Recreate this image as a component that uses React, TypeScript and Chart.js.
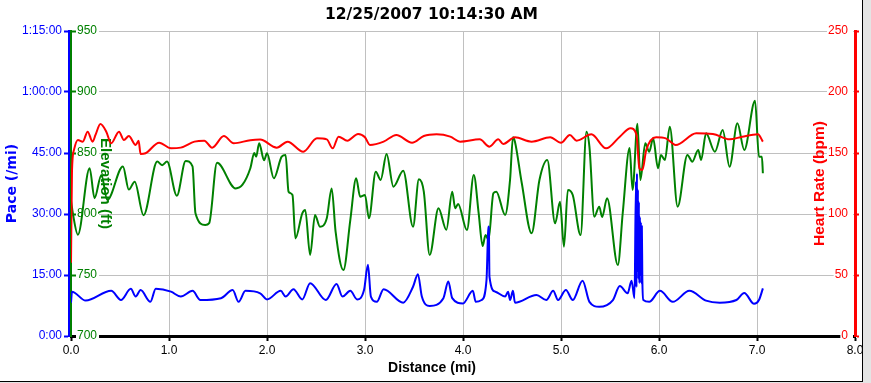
import React, { useEffect, useRef } from "react";
import { Chart, registerables } from "chart.js";

Chart.register(...registerables);

const chartTitle = "12/25/2007 10:14:30 AM";
const xTitle = "Distance (mi)";
const paceTitle = "Pace (/mi)";
const elevTitle = "Elevation (ft)";
const hrTitle = "Heart Rate (bpm)";

const paceTickLabels = ["0:00", "15:00", "30:00", "45:00", "1:00:00", "1:15:00"];

// Pace (minutes per mile) vs distance (mi)
const paceDist = [0.0, 0.01, 0.15, 0.41, 0.51, 0.61, 0.66, 0.71, 0.81, 0.865, 1.02, 1.12, 1.24, 1.32, 1.53, 1.65, 1.71, 1.78, 1.93,
  2.0, 2.14, 2.19, 2.27, 2.36, 2.44, 2.6, 2.71, 2.77, 2.85, 2.92, 2.99, 3.03, 3.06, 3.12, 3.19, 3.39, 3.49, 3.54, 3.58, 3.66, 3.8, 3.85, 3.89,
  4.0, 4.1, 4.13, 4.19, 4.24, 4.255, 4.26, 4.265, 4.27, 4.33, 4.43, 4.46, 4.48, 4.51, 4.53, 4.75, 4.85, 4.92, 4.97, 5.05, 5.12, 5.22, 5.29, 5.39, 5.53,
  5.6, 5.68, 5.72, 5.75, 5.765, 5.77, 5.775, 5.78, 5.785, 5.79, 5.795, 5.8, 5.805, 5.81, 5.815, 5.82, 5.825, 5.83, 5.84, 5.9,
  6.01, 6.14, 6.31, 6.48, 6.62, 6.79, 6.87, 6.97, 7.02, 7.06];
const paceVal = [8.2, 10.9, 8.7, 11.1, 8.85, 11.6, 9.7, 11.3, 8.4, 11.6, 10.9, 9.7, 11.1, 8.85, 9.3, 11.3, 8.4, 11.1, 10.5,
  9.0, 11.1, 9.7, 11.5, 9.0, 13.0, 8.85, 12.8, 9.7, 11.1, 9.0, 11.3, 17.5, 9.7, 8.4, 11.5, 8.2, 12.1, 15.2, 9.7, 7.4, 9.3, 13.4, 9.3,
  8.0, 11.1, 8.4, 8.85, 13.8, 25, 26.9, 25, 14.6, 10.9, 9.7, 10.9, 8.85, 11.1, 8.2, 10.1, 8.85, 11.1, 8.85, 11.3, 8.85, 13.6, 8.4, 7.2, 8.85,
  12.3, 10.5, 13.6, 9.3, 38, 12, 40, 16, 36, 14, 33, 13, 29.3, 15, 28, 13, 26.9, 14, 8.85, 8.4,
  11.1, 8.4, 11.1, 8.7, 8.2, 8.85, 10.6, 7.9, 8.85, 11.7];

// Elevation (ft) vs distance (mi)
const elevDist = [0.0, 0.02, 0.07, 0.19, 0.24, 0.31, 0.37, 0.53, 0.59, 0.65, 0.74, 0.88, 0.93, 0.98, 1.08, 1.17, 1.24, 1.27, 1.37, 1.41, 1.49,
  1.68, 1.75, 1.83, 1.87, 1.89, 1.92, 1.97, 2.0, 2.07, 2.15, 2.19, 2.22, 2.26, 2.29, 2.36, 2.39, 2.44, 2.49, 2.54, 2.61, 2.66, 2.7, 2.78,
  2.85, 2.91, 2.95, 3.0, 3.04, 3.11, 3.16, 3.22, 3.29, 3.39, 3.49, 3.55, 3.6, 3.66, 3.75, 3.83, 3.89, 3.92, 3.95, 4.04, 4.11, 4.16, 4.2,
  4.23, 4.26, 4.31, 4.34, 4.43, 4.48, 4.51, 4.53, 4.6, 4.7, 4.78, 4.86, 4.94, 4.99, 5.03, 5.07, 5.12, 5.2, 5.26, 5.29, 5.34, 5.39, 5.42,
  5.47, 5.58, 5.63, 5.7, 5.73, 5.78, 5.81, 5.86, 5.9, 5.94, 5.99, 6.02, 6.06, 6.11, 6.19, 6.29, 6.34, 6.4, 6.43, 6.48, 6.57, 6.65, 6.72,
  6.8, 6.87, 6.98, 7.02, 7.05, 7.06];
const elevVal = [811, 800, 783, 837.5, 813, 832, 811.5, 839, 820, 826.5, 799, 843, 840, 843, 815, 843.4, 839, 800.6, 791, 792.5, 842,
  821, 824, 837.5, 850, 847, 858, 844, 849.7, 829.3, 847, 848.4, 818.3, 815.6, 780, 800.6, 803.3, 766.4, 799.2, 789.6, 796.5, 821, 785.5, 754,
  795, 829.3, 814.2, 815.6, 796.5, 834.6, 827.9, 849.2, 822.4, 835.5, 789.6, 828.4, 818.3, 766.4, 804.7, 787, 818.3, 804.7, 808.2, 786.9, 832, 800.6, 773.8,
  782.8, 778.7, 817, 818.3, 799.2, 827.9, 862.9, 859.3, 825.2, 784.2, 827.9, 844.3, 792.4, 810, 773.2, 819.7, 815.6, 782.8, 867.5, 855.2, 797.8, 806, 797.5,
  813, 758.2, 800.8, 854, 819.7, 874, 827.9, 858, 851, 862, 837.5, 848.4, 844.3, 871.6, 806, 848.4, 842.9, 852.5, 844.3, 866.1, 851, 868.9, 838.8,
  874.3, 852.5, 892.9, 847, 847, 833.4];

// Heart rate (bpm) vs distance (mi)
const hrDist = [0.0, 0.01, 0.03, 0.07, 0.12, 0.17, 0.22, 0.25, 0.3, 0.36, 0.41, 0.49, 0.54, 0.59, 0.66, 0.69, 0.71, 0.76, 0.9, 1.02, 1.12,
  1.26, 1.36, 1.44, 1.56, 1.66, 1.83, 1.93, 2.1, 2.21, 2.37, 2.51, 2.61, 2.67, 2.73, 2.82, 2.93, 3.0, 3.05, 3.19, 3.32, 3.48, 3.6, 3.73,
  3.87, 3.97, 4.17, 4.27, 4.36, 4.41, 4.53, 4.7, 4.89, 5.0, 5.09, 5.16, 5.31, 5.46, 5.6, 5.71, 5.77, 5.8, 5.83, 5.87, 5.97, 6.07, 6.17,
  6.38, 6.55, 6.72, 6.85, 7.01, 7.06];
const hrVal = [60, 135, 152.5, 160.7, 159.3, 167.5, 159.3, 164.8, 173.8, 167.5, 158, 167.5, 160.7, 163.9, 156.6, 160.1, 149.2, 149.8, 158.4, 153.8, 154.4,
  159.3, 160.1, 154.4, 163.9, 158, 160.5, 161, 154.4, 159.3, 151.1, 162, 161.2, 153.8, 163.4, 160.1, 165.6, 162.9, 156.6, 159.3, 164.8, 158.4, 163.9, 165.3,
  163.4, 159.3, 161.2, 155.2, 161.2, 157.4, 162.9, 159.3, 162.9, 158.4, 164.8, 160.1, 165.3, 153.8, 163.4, 170.2, 165, 137.5, 136, 152.5, 162.9, 162, 156.6,
  166.1, 165.6, 161.2, 163.4, 165.3, 159.3];

const BLUE = "#0000ff";
const GREEN = "#008000";
const RED = "#ff0000";
const GRID = "#c0c0c0";
const BG = "#ffffff";

const zip = (xs: number[], ys: number[]) => xs.map((x, i) => ({ x, y: ys[i] }));

const innerTitles = {
  id: "innerTitles",
  beforeDatasetsDraw(chart: any) {
    const ctx = chart.ctx;
    const { top, bottom } = chart.chartArea;
    const cy = (top + bottom) / 2;
    ctx.save();
    ctx.textAlign = "center";
    ctx.textBaseline = "middle";
    ctx.font = 'bold 15px "Liberation Sans"';
    ctx.fillStyle = GREEN;
    ctx.save();
    ctx.translate(105, cy);
    ctx.rotate(Math.PI / 2);
    ctx.fillText(elevTitle, 0, 0);
    ctx.restore();
    ctx.font = 'bold 15.5px "Liberation Sans"';
    ctx.fillStyle = RED;
    ctx.save();
    ctx.translate(820, cy);
    ctx.rotate(-Math.PI / 2);
    ctx.fillText(hrTitle, 0, 0);
    ctx.restore();
    ctx.font = 'bold 14px "Liberation Sans"';
    ctx.fillStyle = "#000";
    ctx.fillText(xTitle, 432, 368);
    ctx.restore();
  },
};

export default function App() {
  const ref = useRef<HTMLCanvasElement | null>(null);
  useEffect(() => {
    document.body.style.margin = "0";
    const tickFont = { family: "Liberation Sans", size: 12 };
    const chart = new Chart(ref.current as HTMLCanvasElement, {
      type: "line",
      data: {
        datasets: [
          { label: "Pace", data: zip(paceDist, paceVal), yAxisID: "pace", borderColor: BLUE, borderWidth: 2, pointRadius: 0, cubicInterpolationMode: "monotone" },
          { label: "Heart Rate", data: zip(hrDist, hrVal), yAxisID: "hr", borderColor: RED, borderWidth: 2, pointRadius: 0, cubicInterpolationMode: "monotone" },
          { label: "Elevation", data: zip(elevDist, elevVal), yAxisID: "elev", borderColor: GREEN, borderWidth: 2, pointRadius: 0, cubicInterpolationMode: "monotone" },
        ],
      },
      options: {
        animation: false,
        responsive: false,
        layout: { padding: { left: 0, top: 0, right: 8, bottom: 2 } },
        plugins: {
          legend: { display: false },
          tooltip: { enabled: false },
          title: {
            display: true,
            text: chartTitle,
            color: "#000",
            font: { family: "DejaVu Sans", weight: "bold", size: 15.5, lineHeight: 1.2 },
            padding: { top: 6, bottom: 6.4 },
          },
        },
        scales: {
          x: {
            type: "linear",
            min: 0,
            max: 8,
            ticks: { stepSize: 1, color: "#000", font: tickFont, padding: 2, maxRotation: 0, autoSkip: false, callback: (v: any) => Number(v).toFixed(1) },
            grid: { color: GRID, lineWidth: 1, tickColor: "#000", tickLength: 5, tickWidth: 2 },
            border: { color: "#000", width: 3 },
            afterFit: (s: any) => { s.height = 45; s.paddingLeft = 0; s.paddingRight = 0; },
          },
          pace: {
            type: "linear",
            position: "left",
            weight: 1,
            min: 0,
            max: 75,
            ticks: { stepSize: 15, color: BLUE, font: tickFont, padding: 2, callback: (v: any) => paceTickLabels[Math.round(Number(v) / 15)] },
            grid: { color: GRID, lineWidth: 1, tickColor: BLUE, tickLength: 5, tickWidth: 2 },
            border: { color: BLUE, width: 3 },
            title: { display: true, text: paceTitle, color: BLUE, font: { family: "DejaVu Sans", weight: "bold", size: 14, lineHeight: 1.2 }, padding: { top: 4, bottom: 0 } },
            afterFit: (s: any) => { s.width = 69; s.paddingTop = 0; s.paddingBottom = 0; },
          },
          elev: {
            type: "linear",
            position: "left",
            weight: 0,
            min: 700,
            max: 950,
            ticks: {
              stepSize: 50, color: GREEN, font: tickFont, mirror: true, padding: 6,
              showLabelBackdrop: true, backdropColor: BG, backdropPadding: { left: 1, right: 2, top: 0, bottom: 0 },
            },
            grid: { drawOnChartArea: false, tickColor: GREEN, tickLength: -5, tickWidth: 2 },
            border: { color: GREEN, width: 2 },
            afterFit: (s: any) => { s.width = 2; s.paddingTop = 0; s.paddingBottom = 0; },
          },
          hr: {
            type: "linear",
            position: "right",
            min: 0,
            max: 250,
            ticks: {
              stepSize: 50, color: RED, font: tickFont, mirror: true, padding: -7,
              showLabelBackdrop: true, backdropColor: BG, backdropPadding: { left: 1, right: 5, top: 0, bottom: 0 },
            },
            grid: { drawOnChartArea: false, tickColor: RED, tickLength: 4, tickWidth: 2 },
            border: { color: RED, width: 3 },
            afterFit: (s: any) => { s.width = 8; s.paddingTop = 0; s.paddingBottom = 0; },
          },
        },
      } as any,
      plugins: [innerTitles],
    });
    return () => chart.destroy();
  }, []);

  return (
    <div style={{ position: "relative", width: 871, height: 383, background: "#e4e4e4", overflow: "hidden" }}>
      <div style={{ position: "absolute", left: 0, top: 0, width: 862, height: 381, background: BG, borderRight: "1px solid #000", borderBottom: "1px solid #000" }} />
      <canvas ref={ref} width={871} height={383} style={{ position: "absolute", left: 0, top: 0, width: 871, height: 383 }} />
    </div>
  );
}
